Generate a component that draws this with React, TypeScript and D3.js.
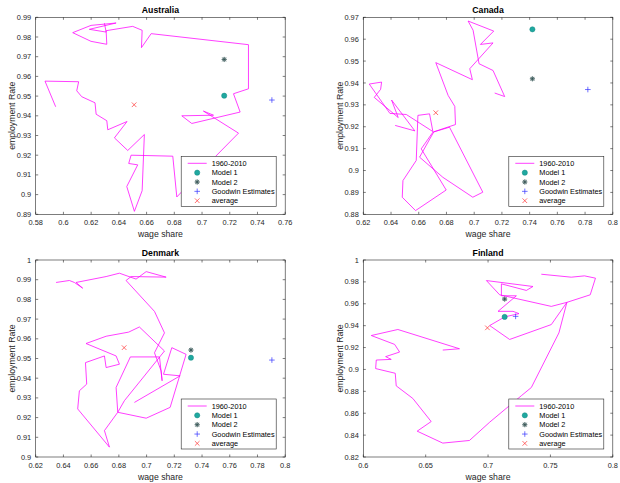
import React from 'react';
import * as d3 from 'd3';

// --- data (wage share, employment rate) ---
const ausWage = [0.6296, 0.6308, 0.6187, 0.638, 0.6199, 0.6067, 0.6199, 0.6313, 0.6308, 0.65, 0.6568, 0.6563, 0.6633, 0.7335, 0.7335, 0.7227, 0.7275, 0.6926, 0.6854, 0.7083, 0.701, 0.7263, 0.7095, 0.6818, 0.6789, 0.6488, 0.6471, 0.6536, 0.6457, 0.6512, 0.6568, 0.6584, 0.6464, 0.6368, 0.6459, 0.632, 0.6313, 0.6236, 0.6228, 0.6132, 0.6096, 0.611, 0.5867, 0.5944];
const ausEmp = [0.987, 0.9825, 0.9839, 0.9871, 0.9859, 0.9822, 0.9778, 0.9763, 0.9832, 0.9854, 0.9834, 0.9746, 0.9817, 0.9761, 0.9537, 0.9512, 0.9419, 0.9361, 0.94, 0.9403, 0.9424, 0.9312, 0.9192, 0.8988, 0.9195, 0.92, 0.9158, 0.9151, 0.9041, 0.8915, 0.902, 0.9305, 0.9224, 0.9288, 0.9371, 0.9329, 0.9375, 0.9408, 0.9466, 0.9497, 0.9527, 0.9573, 0.9576, 0.9446];

const canWage = [0.643, 0.6572, 0.6404, 0.6452, 0.6279, 0.6325, 0.6332, 0.6243, 0.6392, 0.651, 0.6702, 0.6678, 0.6594, 0.6582, 0.6486, 0.6481, 0.6577, 0.6798, 0.6618, 0.6702, 0.6822, 0.7062, 0.699, 0.6774, 0.6606, 0.6709, 0.6865, 0.686, 0.6812, 0.6723, 0.6987, 0.6968, 0.7136, 0.7045, 0.7141, 0.6956, 0.6992, 0.7035, 0.7136, 0.722, 0.7148];
const canEmp = [0.9206, 0.9181, 0.9322, 0.9242, 0.9334, 0.9371, 0.9404, 0.9395, 0.9261, 0.9256, 0.9178, 0.9259, 0.9252, 0.9046, 0.8954, 0.8878, 0.8817, 0.8911, 0.9099, 0.9175, 0.9198, 0.8901, 0.8878, 0.8969, 0.9061, 0.9177, 0.921, 0.9293, 0.9343, 0.9493, 0.9415, 0.9465, 0.9583, 0.9576, 0.9637, 0.9683, 0.9641, 0.9488, 0.9457, 0.9338, 0.9354];

const denWage = [0.6347, 0.6443, 0.6479, 0.6539, 0.6491, 0.6708, 0.6804, 0.6924, 0.6997, 0.7141, 0.6888, 0.6852, 0.7057, 0.7129, 0.7057, 0.7105, 0.7112, 0.7093, 0.6883, 0.678, 0.6792, 0.6696, 0.6732, 0.6503, 0.6515, 0.6568, 0.6559, 0.6696, 0.6708, 0.6804, 0.678, 0.6563, 0.6708, 0.6871, 0.6948, 0.7129, 0.684, 0.6792, 0.6997, 0.717, 0.7285, 0.7182, 0.7122, 0.7242, 0.6912];
const denEmp = [0.9886, 0.9896, 0.9886, 0.9857, 0.9886, 0.9916, 0.9933, 0.9903, 0.9941, 0.9913, 0.9916, 0.9896, 0.9739, 0.963, 0.9529, 0.9437, 0.9387, 0.9508, 0.9508, 0.9353, 0.9227, 0.9134, 0.905, 0.9244, 0.9336, 0.937, 0.9479, 0.9513, 0.9454, 0.9471, 0.9513, 0.9576, 0.9613, 0.9634, 0.966, 0.9538, 0.9286, 0.9227, 0.9197, 0.9252, 0.9521, 0.9555, 0.942, 0.9412, 0.9277];

const finWage = [0.7427, 0.7667, 0.7773, 0.7861, 0.7819, 0.7632, 0.7507, 0.7093, 0.6987, 0.736, 0.7307, 0.7107, 0.7107, 0.7227, 0.708, 0.72, 0.7248, 0.7133, 0.7013, 0.7173, 0.7507, 0.7632, 0.7568, 0.7347, 0.7267, 0.7013, 0.6851, 0.6637, 0.6432, 0.6544, 0.6397, 0.6264, 0.6256, 0.6099, 0.6104, 0.6224, 0.6179, 0.6291, 0.6251, 0.6064, 0.6277, 0.6771, 0.6637];
const finEmp = [0.987, 0.9843, 0.9855, 0.9834, 0.9682, 0.9613, 0.9576, 0.9682, 0.9812, 0.9758, 0.9722, 0.9782, 0.9673, 0.9673, 0.9531, 0.9531, 0.951, 0.948, 0.9401, 0.9274, 0.941, 0.9613, 0.9334, 0.8835, 0.876, 0.8518, 0.8351, 0.8327, 0.8436, 0.8524, 0.8735, 0.885, 0.8965, 0.9008, 0.9086, 0.9092, 0.9117, 0.9159, 0.9229, 0.931, 0.9365, 0.9189, 0.9177];

// single points: [wage share, employment]
const model1 = [[0.716, 0.9502], [0.742, 0.9645], [0.732, 0.9504], [0.7133, 0.948]];
const model2 = [[0.716, 0.9686], [0.742, 0.9419], [0.732, 0.9543], [0.7133, 0.9643]];
const goodwin = [[0.7504, 0.948], [0.782, 0.937], [0.7904, 0.9492], [0.7221, 0.9485]];
const average = [[0.651, 0.9456], [0.6723, 0.9264], [0.6838, 0.9555], [0.6995, 0.938]];

const countries = ['Australia', 'Canada', 'Denmark', 'Finland'];
const xTicksAus = [0.58, 0.6, 0.62, 0.64, 0.66, 0.68, 0.7, 0.72, 0.74, 0.76];
const xTicksCan = [0.62, 0.64, 0.66, 0.68, 0.7, 0.72, 0.74, 0.76, 0.78, 0.8];
const xTicksFin = [0.6, 0.65, 0.7, 0.75, 0.8];
const yTicksAus = [0.89, 0.9, 0.91, 0.92, 0.93, 0.94, 0.95, 0.96, 0.97, 0.98, 0.99];
const yTicksCan = [0.88, 0.89, 0.9, 0.91, 0.92, 0.93, 0.94, 0.95, 0.96, 0.97];
const yTicksDen = [0.9, 0.91, 0.92, 0.93, 0.94, 0.95, 0.96, 0.97, 0.98, 0.99, 1];
const yTicksFin = [0.82, 0.84, 0.86, 0.88, 0.9, 0.92, 0.94, 0.96, 0.98, 1];
const legendLabels = ['1960-2010', 'Model 1', 'Model 2', 'Goodwin Estimates', 'average'];

const FONT = 'Liberation Sans, Arial, Helvetica, sans-serif';
const AX = '#262626';
const LINE = '#ff00ff';
const TEAL = '#1fa8a0';
const STAR = '#2f4f4f';
const BLUE = '#3333ff';
const RED = '#ff3030';

const panels = [
  { wage: ausWage, emp: ausEmp, xTicks: xTicksAus, yTicks: yTicksAus, left: 35.7, top: 17.3 },
  { wage: canWage, emp: canEmp, xTicks: xTicksCan, yTicks: yTicksCan, left: 363.3, top: 17.3 },
  { wage: denWage, emp: denEmp, xTicks: xTicksCan, yTicks: yTicksDen, left: 35.7, top: 260 },
  { wage: finWage, emp: finEmp, xTicks: xTicksFin, yTicks: yTicksFin, left: 363.3, top: 260 },
];
const PW = 249.5;
const PH = 197;

const Marker = ({ kind, cx, cy }) => {
  if (kind === 'circle') {
    return <circle cx={cx} cy={cy} r={2.6} fill={TEAL} stroke="#148a83" strokeWidth={0.5} />;
  }
  if (kind === 'star') {
    const s = 2.6;
    const d = s * 0.72;
    return (
      <g stroke={STAR} strokeWidth={0.7}>
        <circle cx={cx} cy={cy} r={2.4} fill="#b8c4c4" stroke="none" />
        <line x1={cx - s} y1={cy} x2={cx + s} y2={cy} />
        <line x1={cx} y1={cy - s} x2={cx} y2={cy + s} />
        <line x1={cx - d} y1={cy - d} x2={cx + d} y2={cy + d} />
        <line x1={cx - d} y1={cy + d} x2={cx + d} y2={cy - d} />
      </g>
    );
  }
  if (kind === 'plus') {
    const s = 2.8;
    return (
      <g stroke={BLUE} strokeWidth={0.7}>
        <line x1={cx - s} y1={cy} x2={cx + s} y2={cy} />
        <line x1={cx} y1={cy - s} x2={cx} y2={cy + s} />
      </g>
    );
  }
  const s = 2.3;
  return (
    <g stroke={RED} strokeWidth={0.7}>
      <line x1={cx - s} y1={cy - s} x2={cx + s} y2={cy + s} />
      <line x1={cx - s} y1={cy + s} x2={cx + s} y2={cy - s} />
    </g>
  );
};

const Panel = ({ p, i }) => {
  const x = d3.scaleLinear()
    .domain(d3.extent(p.xTicks))
    .range([p.left, p.left + PW]);
  const y = d3.scaleLinear()
    .domain(d3.extent(p.yTicks))
    .range([p.top + PH, p.top]);
  const path = d3.line()
    .x(d => x(d[0]))
    .y(d => y(d[1]))(p.wage.map((w, k) => [w, p.emp[k]]));
  const right = p.left + PW;
  const bottom = p.top + PH;
  const tl = 2.5;
  const lgW = 95;
  const lgH = 50;
  const lgX = right - 9 - lgW;
  const lgY = bottom - 8 - lgH;
  const kinds = ['line', 'circle', 'star', 'plus', 'cross'];

  return (
    <g fontFamily={FONT}>
      <rect x={p.left} y={p.top} width={PW} height={PH} fill="#fff" />
      <path d={path} fill="none" stroke={LINE} strokeWidth={0.75} strokeLinejoin="round" />
      <Marker kind="circle" cx={x(model1[i][0])} cy={y(model1[i][1])} />
      <Marker kind="star" cx={x(model2[i][0])} cy={y(model2[i][1])} />
      <Marker kind="plus" cx={x(goodwin[i][0])} cy={y(goodwin[i][1])} />
      <Marker kind="cross" cx={x(average[i][0])} cy={y(average[i][1])} />

      {/* box + ticks */}
      <rect x={p.left} y={p.top} width={PW} height={PH} fill="none" stroke={AX} strokeWidth={0.6} />
      {p.xTicks.map(t => (
        <g key={`x${t}`}>
          <line x1={x(t)} x2={x(t)} y1={bottom} y2={bottom - tl} stroke={AX} strokeWidth={0.6} />
          <line x1={x(t)} x2={x(t)} y1={p.top} y2={p.top + tl} stroke={AX} strokeWidth={0.6} />
          <text x={x(t)} y={bottom + 11} fontSize={7.4} textAnchor="middle" fill={AX}>{d3.format('~g')(t)}</text>
        </g>
      ))}
      {p.yTicks.map(t => (
        <g key={`y${t}`}>
          <line x1={p.left} x2={p.left + tl} y1={y(t)} y2={y(t)} stroke={AX} strokeWidth={0.6} />
          <line x1={right} x2={right - tl} y1={y(t)} y2={y(t)} stroke={AX} strokeWidth={0.6} />
          <text x={p.left - 4.5} y={y(t)} dy="0.35em" fontSize={7.4} textAnchor="end" fill={AX}>{d3.format('~g')(t)}</text>
        </g>
      ))}

      <text x={p.left + PW / 2} y={p.top - 4.3} fontSize={8.7} fontWeight="bold" textAnchor="middle" fill="#000">{countries[i]}</text>
      <text x={p.left + PW / 2} y={bottom + 23} fontSize={8.7} textAnchor="middle" fill={AX}>wage share</text>
      <text
        transform={`translate(${p.left - 23.7},${p.top + PH / 2}) rotate(-90)`}
        dy="0.35em"
        fontSize={8.7}
        textAnchor="middle"
        fill={AX}
      >
        employment Rate
      </text>

      {/* legend */}
      <rect x={lgX} y={lgY} width={lgW} height={lgH} fill="#fff" stroke={AX} strokeWidth={0.6} />
      {legendLabels.map((lab, k) => {
        const ly = lgY + 7 + k * 9.35;
        return (
          <g key={lab}>
            {kinds[k] === 'line'
              ? <line x1={lgX + 6.5} x2={lgX + 25.5} y1={ly} y2={ly} stroke={LINE} strokeWidth={0.75} />
              : <Marker kind={kinds[k]} cx={lgX + 16} cy={ly} />}
            <text x={lgX + 30.5} y={ly} dy="0.35em" fontSize={7.3} fill="#000">{lab}</text>
          </g>
        );
      })}
    </g>
  );
};

const App = () => (
  <svg
    width={620}
    height={483}
    viewBox="0 0 620 483"
    style={{ position: 'absolute', left: 0, top: 0, background: '#fff' }}
  >
    <rect width={620} height={483} fill="#fff" />
    {panels.map((p, i) => <Panel key={countries[i]} p={p} i={i} />)}
  </svg>
);

export default App;
